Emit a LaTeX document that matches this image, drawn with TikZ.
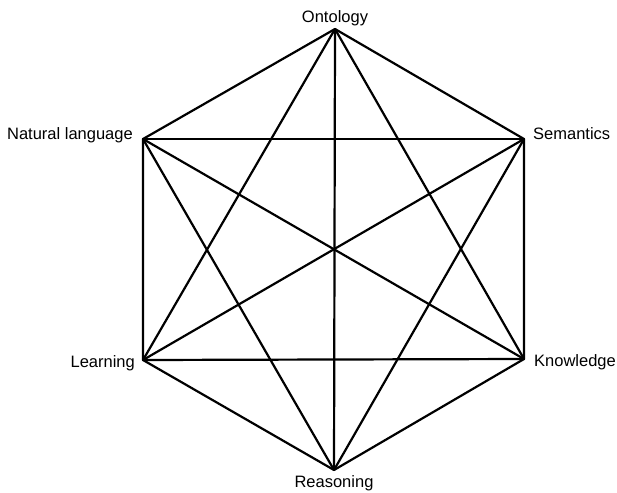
\documentclass[tikz,border=0pt]{standalone}
\usepackage{fontspec}
\setmainfont{Liberation Sans}
\usetikzlibrary{positioning}

\begin{document}
\begin{tikzpicture}[
  x=1pt, y=-1pt,
  font=\fontsize{16.5}{19}\selectfont,
  edge/.style={draw=black, line width=2.2pt, line join=round, line cap=round},
  vlabel/.style={inner sep=0pt, text height=11.8pt, text depth=3.6pt}
]
\useasboundingbox (0,0) rectangle (617,492);

% corners of the hexagon
\coordinate (onto)  at (335,29);
\coordinate (sem)   at (524,139);
\coordinate (know)  at (524,359);
\coordinate (reas)  at (334,470);
\coordinate (learn) at (143,360);
\coordinate (natl)  at (143,139);

\node[vlabel, above=3pt of onto] (ontoLbl) {Ontology};
\node[vlabel, right=9pt of sem, yshift=4pt] (semLbl) {Semantics};
\node[vlabel, right=10pt of know, yshift=-3pt] (knowLbl) {Knowledge};
\node[vlabel, below=5pt of reas] (reasLbl) {Reasoning};
\node[vlabel, left=8pt of learn, yshift=-3pt] (learnLbl) {Learning};
\node[vlabel, left=10pt of natl, yshift=4pt] (natlLbl) {Natural language};

% outer ring
\draw[edge] (onto) -- (sem) -- (know) -- (reas) -- (learn) -- (natl) -- cycle;

% diagonals
\draw[edge] (onto) -- (know);
\draw[edge] (onto) -- (reas);
\draw[edge] (onto) -- (learn);
\draw[edge] (sem) -- (reas);
\draw[edge] (sem) -- (learn);
\draw[edge] (sem) -- (natl);
\draw[edge] (know) -- (learn);
\draw[edge] (know) -- (natl);
\draw[edge] (reas) -- (natl);
\end{tikzpicture}
\end{document}
